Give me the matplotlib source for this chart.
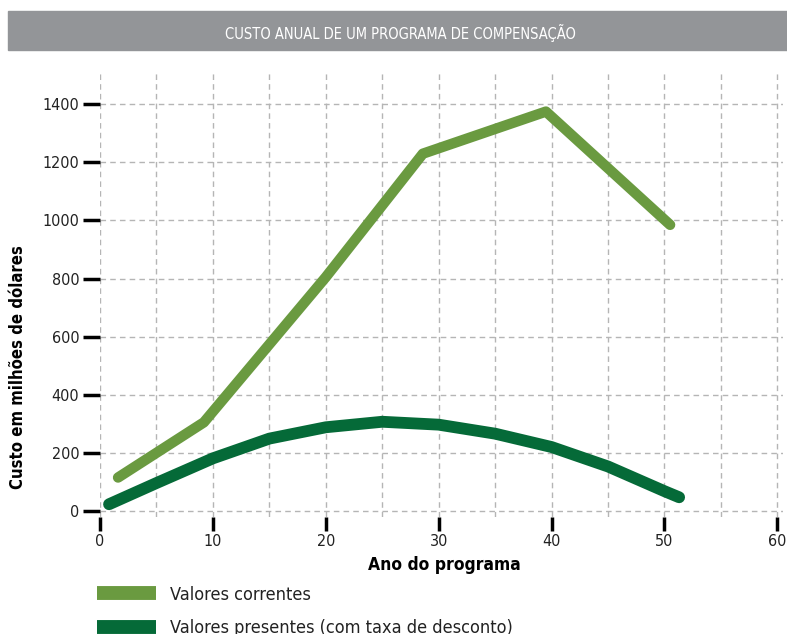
import matplotlib.pyplot as plt
from matplotlib.lines import Line2D
from matplotlib.patches import Rectangle

# Data
anos_correntes = [1.6, 9.2, 20, 28.6, 39.5, 50.5]
valores_correntes = [115, 305, 805, 1230, 1375, 985]

anos_presentes = [0.8, 5, 10, 15, 20, 25, 30, 35, 40, 45, 50, 51.3]
valores_presentes = [23, 96, 181, 249, 288, 307, 297, 266, 220, 153, 68, 47]

x_ticks = [0, 10, 20, 30, 40, 50, 60]
y_ticks = [0, 200, 400, 600, 800, 1000, 1200, 1400]

cor_clara = "#6a9a40"
cor_escura = "#056a38"
cinza = "#939598"

cond = dict(family="DejaVu Sans", fontstretch="condensed")

fig = plt.figure(figsize=(7.87, 6.34), dpi=100)

# title bar
fig.patches.append(Rectangle((8 / 787, 1 - 50 / 634), 779 / 787, 39 / 634,
                             transform=fig.transFigure, color=cinza, zorder=0))
fig.text(400 / 787, 1 - 33 / 634, "CUSTO ANUAL DE UM PROGRAMA DE COMPENSAÇÃO",
         color="white", fontsize=10.5, ha="center", va="center", **cond)

ax = fig.add_axes([100 / 787, 0.1845, 683 / 787, 0.70])

ax.plot(anos_correntes, valores_correntes, color=cor_clara, lw=7.5,
        solid_capstyle="round", solid_joinstyle="round", zorder=3)
ax.plot(anos_presentes, valores_presentes, color=cor_escura, lw=8.5,
        solid_capstyle="round", solid_joinstyle="round", zorder=3)

ax.set_xlim(0, 60.5)
ax.set_ylim(-21, 1507)
ax.set_xticks(x_ticks)
ax.set_xticks(range(5, 60, 10), minor=True)
ax.set_yticks(y_ticks)

for s in ax.spines.values():
    s.set_visible(False)

ax.grid(True, which="both", color="#b5b5b5", ls=(0, (4, 3)), lw=1)
ax.tick_params(axis="y", length=12, width=2.5, color="black", pad=3)
ax.tick_params(axis="x", length=10, width=2.5, color="black", pad=2)
ax.tick_params(axis="x", which="minor", length=0)
for lab in ax.get_xticklabels() + ax.get_yticklabels():
    lab.set_fontsize(11.5)
    lab.set_fontstretch("condensed")
    lab.set_color("#222222")

ax.set_xlabel("Ano do programa", fontsize=12.5, fontweight="bold", **cond)
ax.xaxis.set_label_coords(0.504, -0.108)
ax.xaxis.label.set_va("center")
ax.set_ylabel("Custo em milhões de dólares", fontsize=12, fontweight="bold", **cond)
ax.yaxis.set_label_coords(-0.12, 0.338)
ax.yaxis.label.set_va("center")
ax.yaxis.label.set_ha("center")

handles = [
    Line2D([], [], color=cor_clara, lw=10, solid_capstyle="butt"),
    Line2D([], [], color=cor_escura, lw=10, solid_capstyle="butt"),
]
leg = fig.legend(handles, ["Valores correntes", "Valores presentes (com taxa de desconto)"],
                 loc="upper left", bbox_to_anchor=(84 / 787, 1 - 573 / 634),
                 frameon=False, prop=dict(family="DejaVu Sans", size=13, stretch="condensed"),
                 handlelength=3.3, labelspacing=0.85, handletextpad=0.75, borderpad=0.2)
for t in leg.get_texts():
    t.set_color("#222222")

fig.savefig("out.png", dpi=100)
